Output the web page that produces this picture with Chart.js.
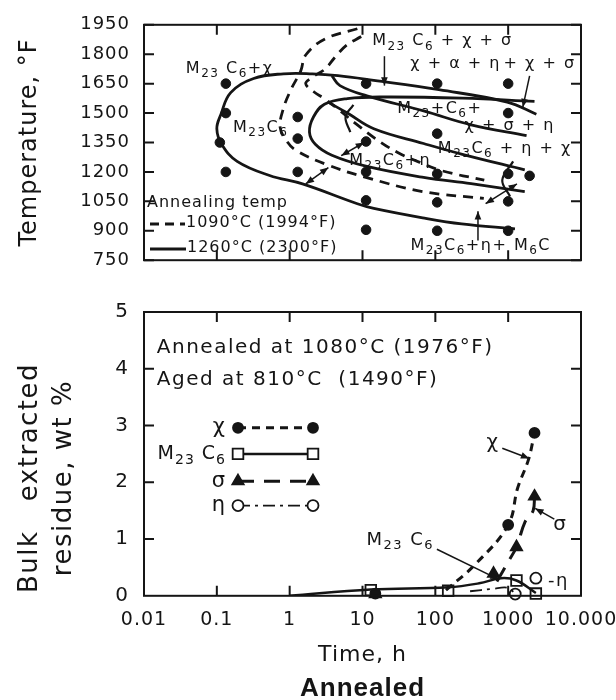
<!DOCTYPE html>
<html>
<head>
<meta charset="utf-8">
<script src="https://cdn.jsdelivr.net/npm/chart.js@4.4.0/dist/chart.umd.min.js"></script>
<style>
  body { margin: 0; background: #fff; }
  #wrap { position: relative; width: 616px; height: 700px; overflow: hidden; }
  #ttt { position: absolute; left: 0; top: 0; }
  #residue { position: absolute; left: 0; top: 285px; }
</style>
</head>
<body>
<div id="wrap">
  <canvas id="ttt" width="616" height="285"></canvas>
  <canvas id="residue" width="616" height="420"></canvas>
</div>
<script>
const INK = '#151515';
const FONT = '"DejaVu Sans", sans-serif';

// ---------- upper panel: precipitation diagram (hours, °F) ----------
const decadeHours = [0.1, 1, 10, 100, 1000];
const tempTicks = [750, 900, 1050, 1200, 1350, 1500, 1650, 1800, 1950];

// aged specimens that were examined
const agedSamples = [
  [0.133, 1650], [0.133, 1500], [0.11, 1350], [0.133, 1200],
  [1.29, 1480], [1.29, 1370], [1.29, 1200],
  [11.2, 1650], [11.2, 1355], [11.2, 1200], [11.2, 1055], [11.2, 905],
  [106, 1650], [106, 1395], [106, 1190], [106, 1045], [106, 900],
  [1000, 1650], [1000, 1500], [1000, 1190], [1000, 1050], [1000, 900],
  [1970, 1180]
];

// solid: annealed at 1260 °C
const outerC = [[1240, 910], [230, 935], [67, 966], [14.3, 1014], [8.5, 1038], [1.5, 1139], [0.53, 1182],
  [0.19, 1254], [0.117, 1340], [0.1, 1420], [0.114, 1494], [0.155, 1604], [0.32, 1676], [0.82, 1700],
  [2.05, 1700], [4.6, 1691], [14.3, 1667], [112, 1619], [970, 1556], [2440, 1494]];
const noseBranch = [[3.8, 1690], [4.9, 1640], [11.5, 1588], [69, 1511], [310, 1440], [1790, 1385]];
const innerC = [[2300, 1560], [235, 1576], [20.7, 1582], [6.2, 1574], [3.0, 1545], [2.12, 1480],
  [1.87, 1403], [2.25, 1341], [3.8, 1285], [11.5, 1228], [69, 1172], [310, 1140], [1690, 1100]];
const diagBranch = [[3.36, 1556], [6.2, 1500], [14.3, 1420], [69, 1345], [235, 1290], [1690, 1211]];
const arcMid = [[7.5, 1542], [5.85, 1480], [6.8, 1403]];
const arcRight = [[1170, 1254], [830, 1158], [1060, 1076]];

// dashed: annealed at 1090 °C
const outerDash = [[8.5, 1930], [3.07, 1878], [1.66, 1796], [1.42, 1715], [1.04, 1619], [0.82, 1523],
  [0.74, 1427], [0.9, 1360], [1.22, 1310], [3.36, 1235], [10.5, 1175], [67, 1100], [463, 1065]];
const innerDash = [[9.6, 1890], [6.0, 1845], [4.2, 1785], [3.07, 1725], [2.0, 1680], [1.66, 1650],
  [2.12, 1610], [3.07, 1571], [4.6, 1520], [8.5, 1440], [15, 1370], [30, 1300], [60, 1250], [123, 1206], [470, 1158]];

const tttLabels = [
  { text: 'M_23 C_6+χ', at: [0.15, 1724] },
  { text: 'M_23C_6', at: [0.4, 1427] },
  { text: 'M_23 C_6 + χ + σ', at: [125, 1866] },
  { text: 'χ + α + η', at: [190, 1752] },
  { text: '+ χ + σ', at: [2700, 1752] },
  { text: 'M_23+C_6+', at: [115, 1522] },
  { text: 'χ + σ + η', at: [1050, 1436] },
  { text: 'M_23C_6 + η + χ', at: [900, 1318] },
  { text: 'M_23C_6+η', at: [24, 1255] },
  { text: 'M_23C_6+η+ M_6C', at: [420, 822] }
];
const tttArrows = [
  { from: [20, 1790], to: [20, 1640] },
  { from: [1970, 1690], to: [1590, 1530] },
  { from: [385, 850], to: [385, 1000] },
  { from: [1.66, 1139], to: [3.4, 1222], both: true },
  { from: [5.1, 1283], to: [10.5, 1350], both: true },
  { from: [490, 1038], to: [1320, 1139], both: true }
];

// ---------- lower panel: extracted residue (hours, wt %) ----------
const timeTicks = [0.01, 0.1, 1, 10, 100, 1000, 10000];
const timeLabels = ['0.01', '0.1', '1', '10', '100', '1000', '10.000'];
const residueTicks = [1, 2, 3, 4];

const chiPoints = [[15, 0.04], [1000, 1.25], [2300, 2.87]];
const chiCurve = [[140, 0.1], [350, 0.55], [1000, 1.25], [1350, 1.9], [1900, 2.4], [2300, 2.87]];
const m23c6Points = [[13, 0.1], [150, 0.09], [1300, 0.27], [2400, 0.04]];
const m23c6Curve = [[1, 0], [13, 0.11], [150, 0.15], [400, 0.22], [800, 0.31], [1300, 0.27], [2400, 0.05]];
const sigmaPoints = [[15, 0.03], [630, 0.39], [1300, 0.86], [2300, 1.75]];
const sigmaCurve = [[700, 0.25], [1000, 0.6], [1300, 0.86], [1700, 1.3], [2200, 1.5], [2300, 1.75]];
const etaPoints = [[1250, 0.03], [2400, 0.31]];
const etaCurve = [[300, 0.08], [600, 0.12], [1000, 0.14], [1250, 0.03]];

const keyRows = [2.96, 2.5, 2.02, 1.59];

const residueLabels = [
  { text: 'Annealed at 1080°C (1976°F)', at: [0.015, 4.37], align: 'left', size: 20 },
  { text: 'Aged at 810°C  (1490°F)', at: [0.015, 3.8], align: 'left', size: 20 },
  { text: 'χ', at: [620, 2.7], size: 20 },
  { text: 'σ', at: [5200, 1.25], size: 20 },
  { text: 'M_23 C_6', at: [33, 0.98], size: 18 },
  { text: '-η', at: [4900, 0.26], size: 18 }
];
const residueArrows = [
  { from: [830, 2.6], to: [1950, 2.42] },
  { from: [4300, 1.35], to: [2350, 1.54] },
  { from: [105, 0.82], to: [740, 0.29] }
];

const phases = {
  chi: { label: 'χ', data: chiPoints, curve: chiCurve, shape: 'circle', r: 5, filled: true, dash: [8, 6], width: 3 },
  m23c6: { label: 'M_23 C_6', data: m23c6Points, curve: m23c6Curve, shape: 'rect', r: 7.5, filled: false, dash: [], width: 2.5 },
  sigma: { label: 'σ', data: sigmaPoints, curve: sigmaCurve, shape: 'triangle', r: 6.5, filled: true, dash: [16, 10], width: 3 },
  eta: { label: 'η', data: etaPoints, curve: etaCurve, shape: 'circle', r: 5.5, filled: false, dash: [12, 5, 3, 5], width: 1.8 }
};

// ---------- drawing helpers ----------
const xy = pts => pts.map(([x, y]) => ({ x, y }));

// text with "_23" style subscripts
function drawRich(ctx, str, x, y, size, align) {
  const parts = str.split(/_(\d+)/);
  const big = size + 'px ' + FONT, small = Math.round(size * 0.72) + 'px ' + FONT;
  let w = 0;
  parts.forEach((p, i) => { ctx.font = i % 2 ? small : big; w += ctx.measureText(p).width; });
  let cx = align === 'left' ? x : align === 'right' ? x - w : x - w / 2;
  ctx.textAlign = 'left';
  ctx.textBaseline = 'middle';
  parts.forEach((p, i) => {
    ctx.font = i % 2 ? small : big;
    ctx.fillText(p, cx, i % 2 ? y + size * 0.32 : y);
    cx += ctx.measureText(p).width;
  });
}

function head(ctx, x1, y1, x2, y2, len) {
  const a = Math.atan2(y2 - y1, x2 - x1);
  ctx.beginPath();
  ctx.moveTo(x2, y2);
  ctx.lineTo(x2 - len * Math.cos(a - 0.38), y2 - len * Math.sin(a - 0.38));
  ctx.lineTo(x2 - len * Math.cos(a + 0.38), y2 - len * Math.sin(a + 0.38));
  ctx.closePath();
  ctx.fill();
}

function marker(ctx, s, x, y) {
  ctx.beginPath();
  if (s.shape === 'circle') ctx.arc(x, y, s.r, 0, Math.PI * 2);
  else if (s.shape === 'rect') ctx.rect(x - s.r * 0.71, y - s.r * 0.71, s.r * 1.42, s.r * 1.42);
  else {
    ctx.moveTo(x, y - s.r);
    ctx.lineTo(x + s.r * 0.87, y + s.r * 0.5);
    ctx.lineTo(x - s.r * 0.87, y + s.r * 0.5);
    ctx.closePath();
  }
  ctx.fillStyle = s.filled ? INK : '#fff';
  ctx.fill();
  ctx.setLineDash([]);
  ctx.lineWidth = 1.8;
  ctx.strokeStyle = INK;
  ctx.stroke();
}

// wide-set lettering
const spacing = {
  id: 'spacing',
  beforeDraw(chart) { chart.ctx.letterSpacing = '1px'; }
};

// closed box with inward tick marks
const frame = {
  id: 'frame',
  afterDraw(chart, args, opts) {
    const { ctx, chartArea: a, scales } = chart;
    ctx.save();
    ctx.strokeStyle = INK;
    ctx.lineWidth = 2;
    ctx.setLineDash([]);
    ctx.strokeRect(a.left, a.top, a.right - a.left, a.bottom - a.top);
    ctx.beginPath();
    opts.xTicks.forEach(v => {
      const px = scales.x.getPixelForValue(v);
      ctx.moveTo(px, a.top); ctx.lineTo(px, a.top + opts.len);
      ctx.moveTo(px, a.bottom); ctx.lineTo(px, a.bottom - opts.len);
    });
    opts.yTicks.forEach(v => {
      const py = scales.y.getPixelForValue(v);
      ctx.moveTo(a.left, py); ctx.lineTo(a.left + opts.len, py);
      ctx.moveTo(a.right, py); ctx.lineTo(a.right - opts.len, py);
    });
    ctx.stroke();
    ctx.restore();
  }
};

// labels and pointer arrows placed in data coordinates
const annotate = {
  id: 'annotate',
  afterDatasetsDraw(chart, args, opts) {
    const { ctx, scales: { x, y } } = chart;
    ctx.save();
    ctx.fillStyle = INK;
    ctx.strokeStyle = INK;
    ctx.letterSpacing = '1.5px';
    (opts.texts || []).forEach(t => {
      drawRich(ctx, t.text, x.getPixelForValue(t.at[0]), y.getPixelForValue(t.at[1]), t.size || 16, t.align);
    });
    ctx.lineWidth = 1.5;
    ctx.setLineDash([]);
    (opts.arrows || []).forEach(ar => {
      const x1 = x.getPixelForValue(ar.from[0]), y1 = y.getPixelForValue(ar.from[1]);
      const x2 = x.getPixelForValue(ar.to[0]), y2 = y.getPixelForValue(ar.to[1]);
      ctx.beginPath(); ctx.moveTo(x1, y1); ctx.lineTo(x2, y2); ctx.stroke();
      head(ctx, x1, y1, x2, y2, 9);
      if (ar.both) head(ctx, x2, y2, x1, y1, 9);
    });
    ctx.restore();
  }
};

// key for the two annealing temperatures
const tttKey = {
  id: 'tttKey',
  afterDatasetsDraw(chart) {
    const { ctx, chartArea: a } = chart;
    ctx.save();
    ctx.fillStyle = INK;
    ctx.strokeStyle = INK;
    ctx.letterSpacing = '1px';
    drawRich(ctx, 'Annealing temp', a.left + 3, 203, 16, 'left');
    ctx.lineWidth = 2.8;
    ctx.setLineDash([9, 6]);
    ctx.beginPath(); ctx.moveTo(a.left + 6, 224); ctx.lineTo(a.left + 41, 224); ctx.stroke();
    ctx.setLineDash([]);
    ctx.beginPath(); ctx.moveTo(a.left + 6, 249); ctx.lineTo(a.left + 42, 249); ctx.stroke();
    drawRich(ctx, '1090°C (1994°F)', a.left + 42, 223, 16, 'left');
    drawRich(ctx, '1260°C (2300°F)', a.left + 43, 248, 16, 'left');
    ctx.restore();
  }
};

// key of phases inside the lower panel
const residueKey = {
  id: 'residueKey',
  afterDatasetsDraw(chart) {
    const { ctx, chartArea: a, scales: { y } } = chart;
    ctx.save();
    ctx.fillStyle = INK;
    ctx.letterSpacing = '1px';
    Object.values(phases).forEach((s, i) => {
      const py = y.getPixelForValue(keyRows[i]);
      const x1 = a.left + 94, x2 = a.left + 169;
      ctx.fillStyle = INK;
      drawRich(ctx, s.label, a.left + 82, py, s.label.length > 2 ? 19 : 21, 'right');
      ctx.strokeStyle = INK;
      ctx.lineWidth = s.width;
      ctx.setLineDash(s.dash);
      ctx.beginPath(); ctx.moveTo(x1, py); ctx.lineTo(x2, py); ctx.stroke();
      marker(ctx, s, x1, py);
      marker(ctx, s, x2, py);
    });
    ctx.restore();
  }
};

const sideTitle = {
  id: 'sideTitle',
  afterDraw(chart, args, opts) {
    const { ctx } = chart;
    ctx.save();
    ctx.fillStyle = INK;
    ctx.letterSpacing = '1.5px';
    ctx.font = opts.size + 'px ' + FONT;
    ctx.textAlign = 'center';
    ctx.textBaseline = 'middle';
    opts.lines.forEach((line, i) => {
      ctx.save();
      ctx.translate(opts.x[i], opts.y);
      ctx.rotate(-Math.PI / 2);
      ctx.fillText(line, 0, 0);
      ctx.restore();
    });
    ctx.restore();
  }
};

// ---------- upper chart ----------
const solidLine = { showLine: true, pointRadius: 0, borderColor: INK, borderWidth: 2.8, tension: 0.4, fill: false };
const dashLine = { ...solidLine, borderDash: [10, 7] };

new Chart(document.getElementById('ttt'), {
  type: 'scatter',
  data: {
    datasets: [
      { ...solidLine, data: xy(outerC) },
      { ...solidLine, data: xy(noseBranch) },
      { ...solidLine, data: xy(innerC) },
      { ...solidLine, data: xy(diagBranch) },
      { ...solidLine, data: xy(arcMid), borderWidth: 2.2 },
      { ...solidLine, data: xy(arcRight), borderWidth: 2.2 },
      { ...dashLine, data: xy(outerDash) },
      { ...dashLine, data: xy(innerDash) },
      { data: xy(agedSamples), pointRadius: 4.8, pointBackgroundColor: INK, pointBorderColor: INK, showLine: false }
    ]
  },
  options: {
    responsive: false,
    animation: false,
    layout: { padding: { top: 18, right: 35, left: 0, bottom: 0 } },
    plugins: {
      legend: { display: false },
      tooltip: { enabled: false },
      frame: { xTicks: decadeHours, yTicks: tempTicks, len: 10 },
      annotate: { texts: tttLabels, arrows: tttArrows }
    },
    scales: {
      x: {
        type: 'logarithmic', min: 0.01, max: 10000,
        ticks: { display: false },
        grid: { display: false, drawTicks: false },
        border: { display: false },
        afterFit: s => { s.height = 17; s.paddingLeft = 0; s.paddingRight = 0; }
      },
      y: {
        min: 750, max: 1950,
        afterBuildTicks: s => { s.ticks = tempTicks.map(v => ({ value: v })); },
        ticks: { color: INK, padding: 14, font: { family: FONT, size: 18 }, callback: v => String(v) },
        grid: { display: false, drawTicks: false },
        border: { display: false },
        title: { display: true, text: 'Temperature, °F', color: INK, font: { family: FONT, size: 24 }, padding: { top: 15, bottom: 0 } },
        afterFit: s => { s.width = 144; }
      }
    }
  },
  plugins: [spacing, frame, annotate, tttKey]
});

// ---------- lower chart ----------
const residueSets = [];
Object.values(phases).forEach(s => {
  residueSets.push({ data: xy(s.curve), showLine: true, pointRadius: 0, borderColor: INK, borderWidth: s.width, borderDash: s.dash, tension: 0.4 });
});
Object.values(phases).forEach(s => {
  residueSets.push({
    data: xy(s.data), showLine: false, clip: false,
    pointStyle: s.shape, pointRadius: s.r, pointBorderWidth: 1.8,
    pointBorderColor: INK, pointBackgroundColor: s.filled ? INK : '#fff'
  });
});

new Chart(document.getElementById('residue'), {
  type: 'scatter',
  data: { datasets: residueSets },
  options: {
    responsive: false,
    animation: false,
    layout: { padding: { top: 18, right: 35, left: 0, bottom: 0 } },
    plugins: {
      legend: { display: false },
      tooltip: { enabled: false },
      title: {
        display: true, text: 'Annealed', position: 'bottom', fullSize: false, color: INK,
        font: { family: '"Liberation Sans", Arial, sans-serif', size: 26, weight: 'bold' },
        padding: { top: 2, bottom: 1 }
      },
      frame: { xTicks: decadeHours, yTicks: residueTicks, len: 10 },
      annotate: { texts: residueLabels, arrows: residueArrows },
      sideTitle: { lines: ['Bulk   extracted', 'residue, wt %'], x: [30, 64], y: 193, size: 26 }
    },
    scales: {
      x: {
        type: 'logarithmic', min: 0.01, max: 10000,
        afterBuildTicks: s => { s.ticks = timeTicks.map(v => ({ value: v })); },
        ticks: { color: INK, autoSkip: false, maxRotation: 0, padding: 13, font: { family: FONT, size: 19 }, callback: (v, i) => timeLabels[i] },
        grid: { display: false, drawTicks: false },
        border: { display: false },
        title: { display: true, text: 'Time, h', color: INK, font: { family: FONT, size: 22 }, padding: { top: 4, bottom: 2 } },
        afterFit: s => { s.height = 75; s.paddingLeft = 0; s.paddingRight = 0; }
      },
      y: {
        min: 0, max: 5,
        ticks: { stepSize: 1, color: INK, padding: 15, font: { family: FONT, size: 20 } },
        grid: { display: false, drawTicks: false },
        border: { display: false },
        afterFit: s => { s.width = 144; }
      }
    }
  },
  plugins: [spacing, frame, annotate, residueKey, sideTitle]
});
</script>
</body>
</html>
